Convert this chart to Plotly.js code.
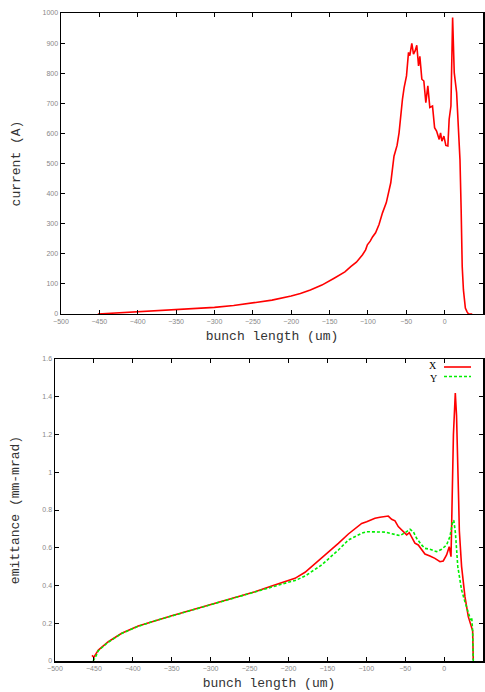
<!DOCTYPE html>
<html>
<head>
<meta charset="utf-8">
<script src="https://cdn.plot.ly/plotly-3.0.1.min.js"></script>
<style>html,body{margin:0;padding:0;background:#fff;}#chart{width:485px;height:692px;}</style>
</head>
<body>
<div id="chart"></div>
<script>
// ---- current profile (top panel) ----
const curZ = [-452,-430,-400,-370,-350,-325,-300,-275,-250,-225,-200,-188,-175,-160,-144,-130,-122,-115,-107,-103,-100.7,-97,-94,-90,-85.5,-81,-76,-72.4,-70.2,-66,-62,-59.4,-57.2,-55,-52.8,-49.7,-47.1,-45.4,-42.8,-40.6,-38.5,-36.3,-34,-32.3,-29.7,-27.1,-24.5,-21.9,-19.3,-15.8,-13.1,-10.5,-7.1,-5.3,-3.6,-1.0,1.6,4.2,5.9,8.2,10.4,12.5,15.6,18,20,21.5,22.9,24.5,25.6,27,29.1,31,36];
const curI = [0,3,7,11,14,18,22,28,36,46,60,68,80,96,119,140,158,172,197,213,230,242,256,270,297,336,370,413,436,524,560,602,663,713,752,791,869,858,899,863,874,893,824,856,780,774,702,758,686,691,619,608,580,602,574,591,560,558,647,691,985,802,736,620,513,350,158,80,47,20,8,0,0];

// ---- emittance X (bottom panel) ----
const emxZ = [-452.5,-450,-447,-444.3,-431.5,-414.3,-393,-371.5,-350,-328.7,-307.2,-285.8,-264.4,-243,-221.5,-200.2,-191.6,-178.7,-157.3,-135.9,-123,-105.9,-99.5,-88.8,-82.4,-75.9,-71.7,-67.4,-63.1,-58.9,-55.8,-52.4,-48.1,-44.7,-41.7,-37.5,-33.2,-28.9,-24.6,-18.2,-11.8,-5.3,-1.1,3.2,6.6,8.9,10.2,12,14.4,16,18.7,19.6,22.5,26.8,31.1,34.1,35.5,36.7,37.5];
const emxV = [0.03,0.02,0.04,0.058,0.102,0.147,0.185,0.214,0.240,0.265,0.291,0.314,0.341,0.367,0.397,0.426,0.438,0.470,0.544,0.623,0.673,0.729,0.738,0.756,0.762,0.765,0.768,0.751,0.743,0.712,0.698,0.685,0.668,0.680,0.659,0.624,0.615,0.588,0.567,0.556,0.544,0.526,0.530,0.562,0.606,0.553,0.765,1.2,1.42,1.3,0.853,0.69,0.50,0.341,0.235,0.191,0.17,0.16,0.005];

// ---- emittance Y (bottom panel) ----
const emyZ = [-451,-448,-444.3,-431.5,-414.3,-393,-371.5,-350,-328.7,-307.2,-285.8,-264.4,-243,-221.5,-200.2,-191.6,-178.7,-157.3,-135.9,-123,-105.9,-99.5,-88.8,-75.9,-69.5,-56.7,-50.2,-43.8,-39.5,-35.3,-28.9,-24.6,-18.2,-9.6,-3.2,3.2,7.5,11,12.5,14.6,17.6,22.5,26.8,31.1,34.1,35.5,36.7,37.5];
const emyV = [0,0.02,0.055,0.100,0.146,0.184,0.213,0.239,0.264,0.290,0.313,0.339,0.365,0.393,0.417,0.426,0.450,0.509,0.588,0.641,0.677,0.685,0.685,0.683,0.677,0.664,0.680,0.698,0.685,0.650,0.615,0.597,0.592,0.579,0.592,0.615,0.659,0.738,0.745,0.677,0.50,0.376,0.314,0.251,0.217,0.23,0.16,0];

const legendNames = ['X','Y'];

const traces = [
  {x: curZ, y: curI, xaxis:'x', yaxis:'y', mode:'lines', line:{color:'#ff0000', width:1.6}, showlegend:false},
  {x: emxZ, y: emxV, xaxis:'x2', yaxis:'y2', mode:'lines', name:legendNames[0], line:{color:'#ff0000', width:1.6}, showlegend:false},
  {x: emyZ, y: emyV, xaxis:'x2', yaxis:'y2', mode:'lines', name:legendNames[1], line:{color:'#00ee00', width:1.6, dash:'3px,2px'}, showlegend:false}
];

const tickFont = {family:'Liberation Sans', size:7, color:'#888'};
const titleFont = {family:'Liberation Mono', size:13, color:'#333'};
const axBase = {
  showline:true, linecolor:'#000', linewidth:1.5, mirror:'allticks',
  ticks:'inside', ticklen:4, tickcolor:'#000', tickwidth:1,
  showgrid:false, zeroline:false, tickfont:tickFont
};

const layout = {
  width:485, height:692,
  margin:{l:55, r:2, t:13, b:31},
  paper_bgcolor:'#fff', plot_bgcolor:'#fff',
  showlegend:false,
  xaxis: Object.assign({}, axBase, {domain:[6/428,1], anchor:'y', range:[-500,50], tick0:0, dtick:50,
    title:{text:'bunch length (um)', font:titleFont, standoff:7}}),
  yaxis: Object.assign({}, axBase, {domain:[0.5355,1], anchor:'x', range:[0,1000], tick0:0, dtick:100,
    title:{text:'current (A)', font:titleFont, standoff:19}}),
  xaxis2: Object.assign({}, axBase, {domain:[0,1], anchor:'y2', range:[-500,50], tick0:0, dtick:50,
    title:{text:'bunch length (um)', font:titleFont, standoff:7}}),
  yaxis2: Object.assign({}, axBase, {domain:[0,0.466], anchor:'x2', range:[0,1.6], tick0:0, dtick:0.2,
    title:{text:'emittance (mm-mrad)', font:titleFont, standoff:20}}),
  annotations:[
    {xref:'paper', yref:'paper', x:(433-55)/428, y:(661-371.8)/648, text:legendNames[0], showarrow:false, borderpad:0,
     font:{family:'Liberation Serif', size:10, color:'#000'}, xanchor:'center', yanchor:'bottom'},
    {xref:'paper', yref:'paper', x:(433-55)/428, y:(661-372.2)/648, text:legendNames[1], showarrow:false, borderpad:0,
     font:{family:'Liberation Serif', size:10, color:'#000'}, xanchor:'center', yanchor:'top'}
  ],
  shapes:[
    {type:'line', xref:'paper', yref:'paper', x0:(444-55)/428, x1:(471-55)/428, y0:(661-367)/648, y1:(661-367)/648, line:{color:'#ff0000', width:1.6}},
    {type:'line', xref:'paper', yref:'paper', x0:(444-55)/428, x1:(471-55)/428, y0:(661-376.5)/648, y1:(661-376.5)/648, line:{color:'#00ee00', width:1.6, dash:'3px,2px'}}
  ]
};

Plotly.newPlot('chart', traces, layout, {staticPlot:true, displayModeBar:false});
</script>
</body>
</html>
